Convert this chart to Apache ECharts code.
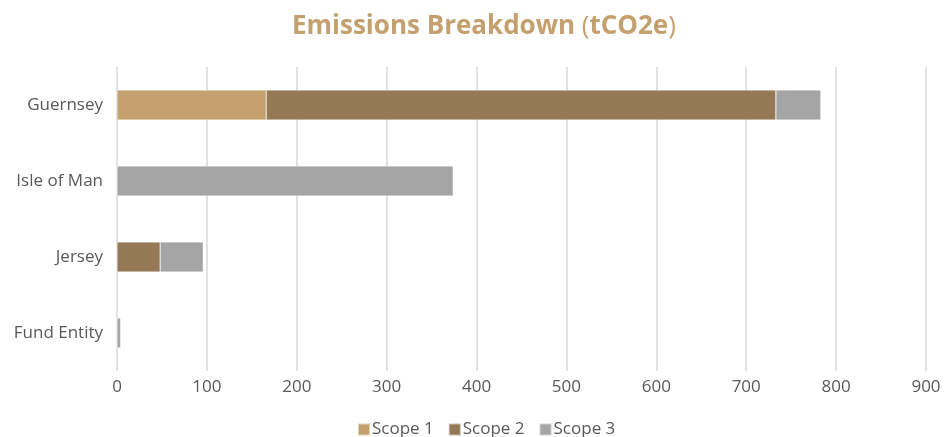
<!DOCTYPE html>
<html>
<head>
<meta charset="utf-8">
<script src="https://cdn.jsdelivr.net/npm/echarts@6/dist/echarts.min.js"></script>
<style>
  html, body { margin: 0; padding: 0; background: #fff; }
  #chart { width: 945px; height: 437px; }
</style>
</head>
<body>
<div id="chart"></div>
<script>
// Emissions per entity, tonnes CO2 equivalent
const categories = ['Guernsey', 'Isle of Man', 'Jersey', 'Fund Entity'];
const scope1 = [166, 0, 0, 0];
const scope2 = [567, 0, 48, 0];
const scope3 = [50, 374, 48, 4];
const seriesNames = ['Scope 1', 'Scope 2', 'Scope 3'];
const colors = ['#C4A06F', '#957956', '#A5A5A5'];

const chart = echarts.init(document.getElementById('chart'));
const font = '"Open Sans", Lato, sans-serif';

function bar(name, data, color) {
  return {
    name: name,
    type: 'bar',
    stack: 'total',
    data: data,
    barWidth: 30,
    itemStyle: { color: color, borderColor: 'rgba(255,255,255,0.5)', borderWidth: 0.6 },
    emphasis: { disabled: true }
  };
}

chart.setOption({
  animation: false,
  color: colors,
  title: {
    text: '{b|Emissions Breakdown }{p|(}{b|tCO2e}{p|)}',
    left: 287,
    top: 9,
    textStyle: {
      rich: {
        b: { fontFamily: font, fontWeight: 'bold', fontSize: 26, color: '#C4A06F' },
        p: { fontFamily: font, fontWeight: 'normal', fontSize: 26, color: '#C4A06F' }
      }
    }
  },
  legend: {
    bottom: -6,
    left: 352,
    itemWidth: 12,
    itemHeight: 12,
    itemGap: 14,
    icon: 'rect',
    textStyle: { fontFamily: font, fontSize: 17, color: '#595959', padding: [0, 0, 0, -3] },
    data: seriesNames
  },
  grid: { left: 117, right: 19, top: 67, bottom: 66, containLabel: false },
  xAxis: {
    type: 'value',
    min: 0,
    max: 900,
    interval: 100,
    axisLine: { show: false },
    axisTick: { show: false },
    axisLabel: { fontFamily: font, fontSize: 17, color: '#595959', margin: 8 },
    splitLine: { lineStyle: { color: '#D9D9D9', width: 1.5 } }
  },
  yAxis: {
    type: 'category',
    inverse: true,
    data: categories,
    axisLine: { show: false },
    axisTick: { show: false },
    axisLabel: { fontFamily: font, fontSize: 17, color: '#595959', margin: 14 }
  },
  series: [
    bar(seriesNames[0], scope1, colors[0]),
    bar(seriesNames[1], scope2, colors[1]),
    bar(seriesNames[2], scope3, colors[2])
  ]
});
</script>
</body>
</html>
